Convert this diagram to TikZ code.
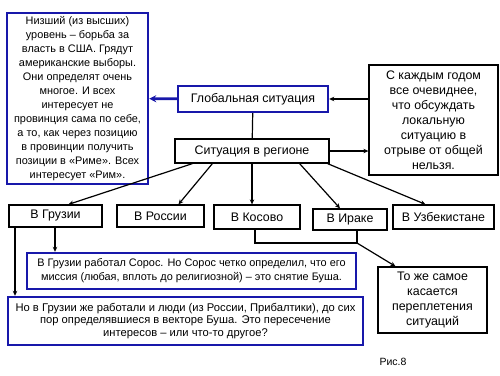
\documentclass[tikz,border=0pt]{standalone}
\usepackage{fontspec}
\setmainfont{Liberation Sans}
\usepackage{xcolor}
\usetikzlibrary{arrows.meta, positioning}
\definecolor{azul}{RGB}{24,24,170}

\begin{document}
\begin{tikzpicture}[
            x=1pt, y=-1pt,
            font=\fontsize{10.9}{14}\selectfont,
            box_plain/.style={
                draw, rectangle, line width=1.3pt, fill=white,
                inner sep=1pt, align=center
            },
            box_blue/.style={
                box_plain, draw=azul, line width=2.4pt
            },
            big_text/.style={font=\fontsize{12.4}{15}\selectfont},
            arrow_line/.style={-{Stealth[length=5pt, width=4.5pt]}, line width=1.2pt},
            arrow_blue/.style={-{Stealth[length=7pt, width=7pt]}, line width=2.6pt, draw=azul}
        ]
            \useasboundingbox (0,0) rectangle (500,375);

            % Центральная колонка
            \node[box_blue, big_text, minimum width=150pt, minimum height=26pt] (global) at (253,99) {Глобальная ситуация};
            \node[box_plain, big_text, minimum width=154pt, minimum height=24pt] (region) at (252,151) {Ситуация в регионе};

            % --- Боковые пояснения ---
            \node[box_blue, minimum width=141pt, minimum height=171pt] (usa_note) at (77.5,98.5) {Низший (из высших)\\ уровень -- борьба за\\ власть в США. Грядут\\ американские выборы.\\ Они определят очень\\ многое. И всех\\ интересует не\\ провинция сама по себе,\\ а то, как через позицию\\ в провинции получить\\ позиции в «Риме». Всех\\ интересует «Рим».};
            \node[box_plain, big_text, minimum width=129pt, minimum height=110pt] (year_note) at (433.5,120) {С каждым годом\\ все очевиднее,\\ что обсуждать\\ локальную\\ ситуацию в\\ отрыве от общей\\ нельзя.};

            % --- Регионы ---
            \node[box_plain, big_text, minimum width=93pt, minimum height=22pt] (georgia) at (55.5,216) {В Грузии};
            \node[box_plain, big_text, minimum width=87pt, minimum height=22pt] (russia) at (160.5,216) {В России};
            \node[box_plain, big_text, minimum width=86pt, minimum height=24pt] (kosovo) at (257,217) {В Косово};
            \node[box_plain, big_text, minimum width=74pt, minimum height=21pt] (iraq) at (350,219.5) {В Ираке};
            \node[box_plain, big_text, minimum width=101pt, minimum height=24pt] (uzbek) at (443.5,217) {В Узбекистане};

            % --- Нижние пояснения ---
            \node[box_blue, minimum width=329pt, minimum height=36pt] (soros_note) at (191.5,271) {В Грузии работал Сорос. Но Сорос четко определил, что его\\ миссия (любая, вплоть до религиозной) -- это снятие Буша.};
            \node[box_blue, minimum width=355pt, minimum height=48pt, font=\fontsize{11.2}{12.8}\selectfont] (people_note) at (185.5,321) {Но в Грузии же работали и люди (из России, Прибалтики), до сих\\ пор определявшиеся в векторе Буша. Это пересечение\\ интересов -- или что-то другое?};
            \node[box_plain, big_text, minimum width=109pt, minimum height=66pt] (same_note) at (432.5,300) {То же самое\\ касается\\ переплетения\\ ситуаций};

            \node[anchor=west, font=\fontsize{10.5}{12}\selectfont] (fig_label) at (376,362) {Рис.8};

            % Связи
            \draw[arrow_blue] (global) -- (usa_note);
            \draw[arrow_line] (year_note.west |- global) -- (global);
            \draw[line width=1.2pt] (global) -- (region);
            \draw[arrow_line] (region) -- (region -| year_note.west);

            \draw[arrow_line] ([xshift=18pt]region.south west) -- ([xshift=13pt]georgia.north);
            \draw[arrow_line] ([xshift=38pt]region.south west) -- ([xshift=18pt]russia.north);
            \draw[arrow_line] (region.south) -- (region.south |- kosovo.north);
            \draw[arrow_line] ([xshift=-30pt]region.south east) -- ([xshift=-10pt]iraq.north);
            \draw[arrow_line] ([xshift=-2pt]region.south east) -- ([xshift=-18pt]uzbek.north);

            % Нижние связи
            \coordinate (junction) at (357,243);
            \draw[line width=1.2pt] (kosovo.south -| 255,0) |- (junction) -- (iraq.south -| junction);
            \draw[arrow_line] (junction) -- ([xshift=-37pt]same_note.north);
            \draw[arrow_line] (georgia.south -| 55,0) -- (soros_note.north -| 55,0);
            \draw[arrow_line] (georgia.south -| 15,0) -- (people_note.north -| 15,0);
        \end{tikzpicture}
\end{document}
